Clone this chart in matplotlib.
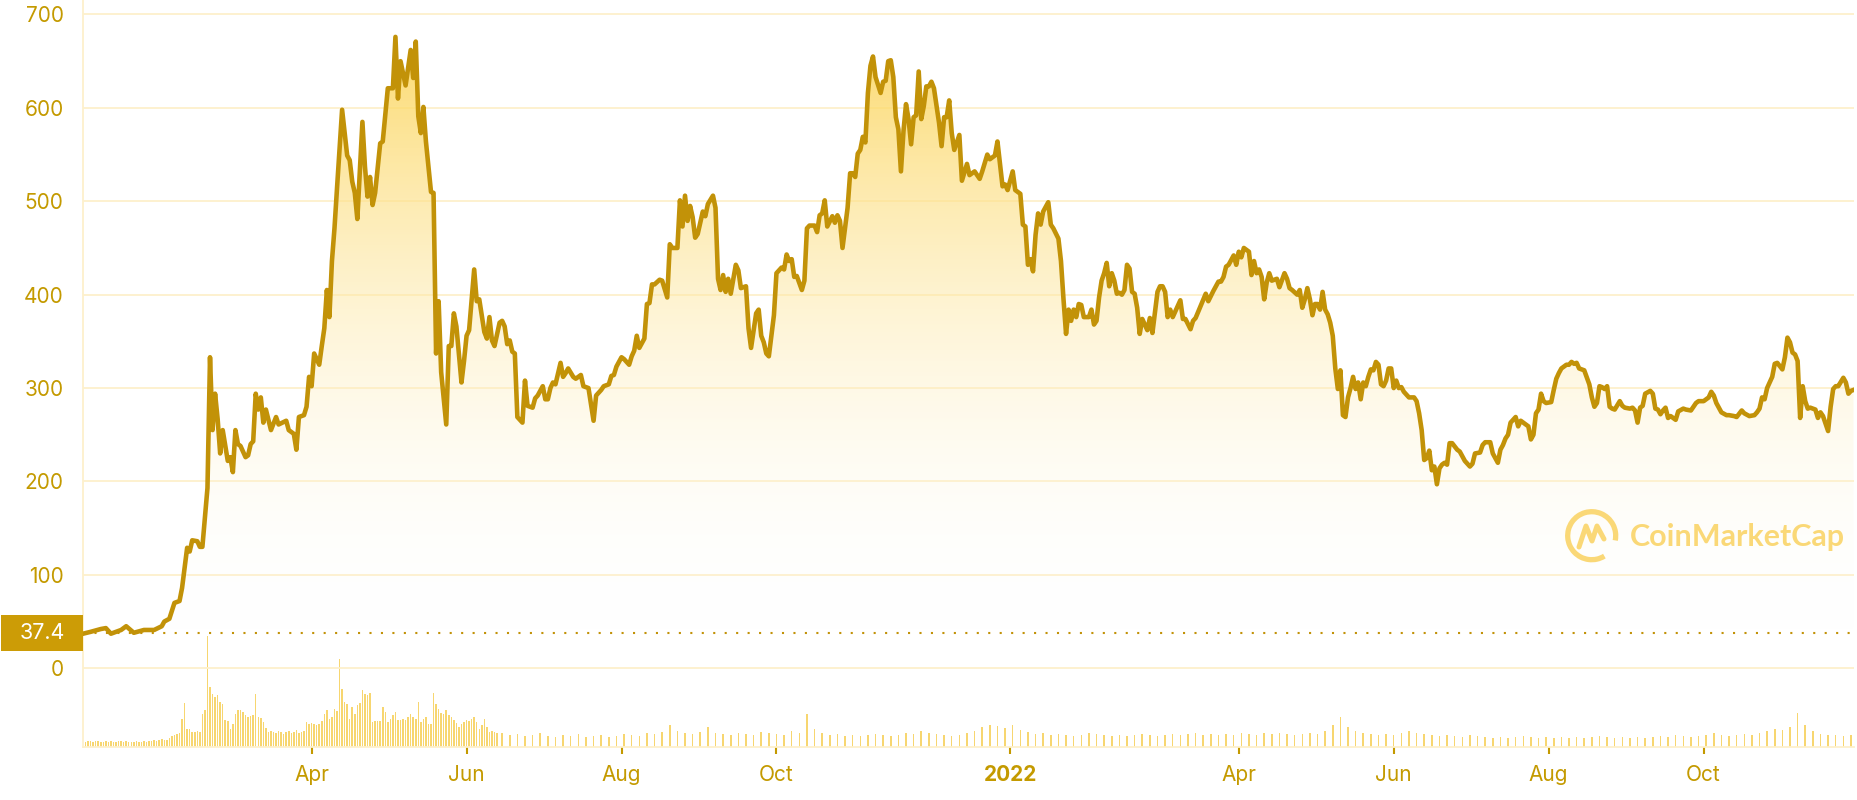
# Grafico precio BNB estilo CoinMarketCap
import numpy as np
import pandas as pd
import matplotlib
matplotlib.use('Agg')
import matplotlib.pyplot as plt
import matplotlib.dates as mdates
import matplotlib.transforms as mtransforms
from matplotlib.patches import Arc, Rectangle
from matplotlib.colors import LinearSegmentedColormap

plt.rcParams['font.family'] = ['Inter', 'DejaVu Sans']

# %% Datos (dias desde 2021-01-01, precio en USD)
start = '2021-01-01'
open_price = 37.4
days = [0, 3, 7, 9, 11, 15, 17, 20, 24, 28, 31, 32, 34, 36, 38, 39, 41, 42, 43, 45,
        46, 47, 49, 50, 51, 52, 53, 54, 55, 57, 58, 59, 60, 61, 62, 64, 65, 66, 67, 68,
        69, 70, 71, 72, 74, 76, 77, 80, 81, 83, 84, 85, 87, 88, 89, 90, 91, 93, 94, 95,
        96, 97, 98, 99, 100, 102, 104, 105, 106, 107, 108, 110, 111, 112, 113, 114, 115, 117, 118, 120,
        122, 123, 124, 125, 127, 129, 130, 131, 132, 133, 134, 135, 137, 138, 139, 140, 141, 143, 144, 145,
        146, 147, 149, 150, 151, 152, 154, 155, 156, 158, 159, 160, 161, 162, 164, 165, 166, 167, 168, 169,
        170, 171, 173, 174, 175, 177, 178, 179, 181, 182, 183, 184, 185, 186, 188, 189, 190, 191, 193, 194,
        196, 197, 199, 201, 202, 204, 205, 207, 208, 209, 210, 212, 213, 215, 216, 217, 218, 219, 221, 222,
        223, 224, 225, 227, 228, 230, 231, 232, 234, 235, 236, 237, 238, 239, 240, 241, 242, 244, 245, 246,
        248, 249, 250, 251, 252, 253, 254, 255, 257, 258, 259, 261, 262, 263, 265, 266, 267, 268, 269, 270,
        272, 273, 275, 276, 277, 278, 279, 280, 281, 283, 284, 285, 286, 288, 289, 290, 291, 292, 293, 295,
        296, 297, 298, 299, 301, 302, 303, 304, 305, 306, 307, 308, 309, 310, 311, 312, 314, 315, 316, 317,
        318, 319, 320, 321, 322, 323, 324, 325, 326, 327, 328, 329, 330, 331, 332, 333, 334, 335, 337, 338,
        339, 340, 341, 342, 343, 345, 346, 348, 349, 351, 353, 354, 356, 357, 359, 360, 361, 362, 363, 364,
        366, 367, 369, 370, 371, 372, 373, 374, 375, 376, 377, 378, 380, 381, 382, 384, 385, 386, 387, 388,
        389, 390, 391, 392, 393, 394, 396, 397, 398, 399, 400, 401, 402, 403, 404, 405, 406, 407, 408, 409,
        410, 411, 412, 413, 414, 415, 416, 417, 419, 420, 421, 423, 424, 425, 426, 427, 428, 429, 430, 432,
        433, 434, 436, 437, 438, 440, 442, 443, 445, 447, 448, 449, 450, 451, 453, 454, 455, 456, 457, 459,
        460, 461, 462, 463, 464, 465, 466, 467, 468, 470, 471, 473, 474, 475, 476, 478, 479, 480, 481, 482,
        483, 484, 485, 486, 487, 488, 489, 490, 491, 492, 493, 494, 495, 496, 497, 498, 499, 500, 501, 502,
        503, 504, 505, 506, 507, 508, 509, 510, 511, 512, 513, 514, 515, 516, 517, 518, 519, 520, 522, 524,
        525, 526, 527, 528, 529, 530, 531, 532, 533, 534, 535, 536, 537, 538, 539, 541, 542, 544, 545, 546,
        547, 548, 550, 551, 552, 554, 555, 557, 558, 559, 560, 561, 562, 564, 565, 566, 567, 569, 570, 571,
        572, 573, 574, 575, 576, 578, 579, 580, 581, 582, 584, 585, 586, 587, 588, 589, 591, 593, 594, 595,
        596, 597, 598, 599, 600, 601, 602, 603, 605, 606, 607, 609, 610, 611, 612, 613, 614, 615, 617, 618,
        619, 620, 621, 622, 623, 624, 625, 626, 627, 628, 630, 631, 633, 635, 636, 638, 640, 641, 642, 643,
        644, 645, 647, 648, 650, 651, 653, 654, 656, 658, 659, 660, 661, 662, 663, 665, 666, 667, 669, 670,
        671, 672, 673, 674, 675, 676, 677, 678, 679, 680, 682, 683, 684, 685, 686, 687, 688, 689, 690, 691,
        693, 694, 695, 696, 697]
prices = [37, 39, 42, 43, 37, 41, 45, 38, 41, 41, 45, 50, 53, 70, 72, 86, 129, 125, 137, 136,
          130, 130, 193, 333, 255, 294, 267, 230, 255, 222, 226, 210, 255, 240, 238, 226, 228, 240, 243, 294,
          277, 290, 263, 277, 255, 269, 261, 265, 255, 251, 234, 269, 271, 280, 312, 302, 337, 325, 345, 364,
          405, 376, 436, 471, 514, 598, 549, 544, 521, 509, 481, 585, 537, 505, 526, 496, 509, 562, 564, 621,
          621, 676, 610, 650, 624, 662, 632, 671, 591, 573, 601, 564, 510, 509, 337, 393, 317, 261, 345, 345,
          380, 366, 306, 329, 356, 362, 427, 393, 395, 360, 353, 376, 351, 345, 370, 372, 366, 347, 351, 339,
          337, 269, 263, 308, 281, 279, 289, 292, 302, 288, 288, 300, 306, 304, 327, 312, 316, 321, 312, 310,
          314, 302, 300, 265, 292, 298, 302, 304, 313, 314, 323, 333, 331, 325, 334, 340, 356, 343, 353, 390,
          391, 411, 411, 416, 415, 397, 454, 450, 450, 501, 473, 506, 479, 495, 483, 461, 465, 489, 484, 497,
          506, 493, 417, 405, 421, 403, 417, 401, 432, 426, 407, 409, 364, 343, 380, 384, 356, 349, 337, 334,
          378, 423, 429, 427, 443, 436, 438, 419, 420, 405, 415, 471, 474, 474, 467, 485, 487, 501, 473, 484,
          477, 485, 479, 450, 493, 530, 530, 526, 551, 555, 569, 563, 616, 645, 655, 633, 616, 628, 629, 650,
          651, 633, 590, 577, 532, 575, 604, 588, 561, 590, 592, 639, 588, 602, 623, 623, 628, 621, 584, 559,
          590, 590, 608, 573, 555, 571, 522, 540, 528, 532, 524, 532, 550, 545, 549, 564, 540, 516, 518, 512,
          532, 512, 508, 475, 473, 432, 438, 425, 464, 487, 475, 489, 499, 475, 471, 460, 436, 395, 358, 384,
          372, 384, 376, 390, 389, 376, 376, 384, 368, 372, 397, 415, 423, 434, 409, 423, 415, 401, 402, 400,
          405, 432, 428, 403, 401, 386, 358, 374, 362, 375, 359, 403, 409, 409, 403, 376, 384, 376, 382, 394,
          374, 374, 363, 372, 375, 388, 401, 393, 404, 414, 414, 419, 430, 432, 442, 432, 446, 440, 450, 446,
          421, 436, 423, 427, 419, 395, 413, 423, 415, 417, 408, 423, 417, 407, 405, 400, 405, 386, 395, 407,
          395, 378, 390, 390, 384, 403, 384, 379, 370, 356, 321, 299, 319, 271, 269, 290, 300, 312, 299, 306,
          288, 306, 302, 312, 320, 319, 328, 325, 304, 302, 308, 321, 321, 300, 308, 300, 301, 296, 290, 290,
          286, 273, 255, 223, 225, 233, 212, 216, 197, 214, 218, 220, 218, 241, 241, 234, 232, 222, 219, 216,
          219, 230, 231, 239, 242, 242, 230, 220, 234, 239, 246, 250, 263, 269, 259, 265, 263, 259, 245, 250,
          273, 277, 294, 286, 284, 285, 298, 310, 316, 321, 325, 325, 328, 326, 327, 321, 319, 304, 290, 280,
          284, 302, 301, 299, 302, 280, 278, 277, 286, 281, 279, 278, 279, 276, 263, 279, 281, 294, 297, 294,
          278, 277, 272, 276, 279, 268, 270, 268, 266, 275, 278, 277, 276, 284, 286, 286, 290, 296, 292, 284,
          279, 274, 271, 271, 270, 269, 276, 273, 270, 271, 274, 278, 290, 288, 300, 312, 326, 327, 320, 333,
          354, 349, 338, 336, 329, 268, 302, 286, 278, 279, 277, 268, 274, 270, 262, 254, 280, 299, 302, 302,
          311, 306, 294, 297, 298]

# volumen (unidades relativas)
vol_days = list(range(1, 164)) + list(range(165, 697, 3))
vol = [5, 6, 6, 5, 6, 6, 5, 5, 6, 5, 6, 5, 5, 6, 6, 5, 6, 5, 5, 5, 6, 5, 5, 6, 5, 6, 6, 7, 6, 7,
       8, 7, 7, 9, 11, 12, 13, 14, 28, 44, 18, 18, 15, 15, 16, 15, 33, 37, 111, 60,
       53, 50, 52, 45, 43, 27, 26, 18, 23, 33, 37, 37, 35, 32, 30, 31, 32, 53, 30, 29,
       25, 19, 15, 16, 15, 14, 16, 15, 13, 15, 16, 14, 15, 17, 14, 15, 16, 25, 23, 24,
       23, 22, 23, 26, 33, 37, 28, 30, 38, 36, 88, 58, 45, 43, 28, 40, 33, 42, 44, 57,
       53, 52, 54, 25, 26, 26, 26, 40, 35, 25, 28, 32, 35, 27, 27, 28, 27, 30, 33, 30,
       28, 45, 25, 28, 30, 23, 23, 54, 43, 38, 34, 33, 37, 32, 30, 27, 24, 20, 23, 25,
       27, 26, 28, 30, 25, 18, 22, 28, 20, 15, 16, 15, 14,
       14, 12, 13, 11, 12, 14, 11, 10, 12, 11, 13, 10, 11, 12, 10, 11, 13, 12, 11, 14,
       13, 15, 22, 16, 14, 13, 15, 20, 14, 13, 12, 14, 13, 12, 15, 14, 13, 12, 16, 14,
       33, 18, 14, 12, 13, 11, 12, 11, 12, 13, 12, 11, 12, 14, 13, 16, 14, 13, 12, 11,
       12, 14, 16, 20, 22, 21, 19, 22, 17, 15, 13, 14, 12, 13, 12, 11, 12, 14, 13, 12,
       11, 12, 11, 12, 13, 12, 11, 12, 13, 12, 13, 14, 12, 13, 12, 13, 12, 14, 13, 12,
       14, 13, 14, 13, 12, 13, 14, 13, 16, 22, 30, 20, 16, 14, 13, 12, 13, 12, 14, 16,
       14, 13, 12, 11, 12, 11, 10, 12, 11, 10, 9, 10, 9, 10, 11, 10, 9, 10, 9, 10,
       9, 10, 9, 10, 11, 10, 9, 10, 9, 10, 9, 10, 11, 10, 12, 11, 10, 11, 12, 14,
       12, 11, 12, 13, 12, 14, 16, 18, 17, 20, 34, 22, 16, 13, 12, 12, 11, 12]

y_ticks = [0, 100, 200, 300, 400, 500, 600, 700]
tick_dates = ['2021-04-01', '2021-06-01', '2021-08-01', '2021-10-01', '2022-01-01',
              '2022-04-01', '2022-06-01', '2022-08-01', '2022-10-01']
tick_labels = ['Apr', 'Jun', 'Aug', 'Oct', '2022', 'Apr', 'Jun', 'Aug', 'Oct']

# %% Colores
gold = '#C29208'
text_gold = '#C49A00'
grid_col = '#FDF0CC'

x0 = mdates.date2num(pd.Timestamp(start))
xs = x0 + np.array(days, dtype=float)
xv = x0 + np.array(vol_days, dtype=float)
prices = np.array(prices, dtype=float)
xmax = x0 + 697.2

# %% Figura
fig = plt.figure(figsize=(18.58, 8.0), dpi=100)
rect = [83 / 1858, 53 / 800, 1771 / 1858, 747 / 800]

# volumen
axv = fig.add_axes(rect)
axv.bar(xv, vol, width=0.6, color='#F7D670', linewidth=0)
axv.set_xlim(x0, xmax)
axv.set_ylim(0, 747)
axv.axis('off')

ax = fig.add_axes(rect, facecolor='none')
ax.set_xlim(x0, xmax)
ax.set_ylim(-84.3, 715.5)

# relleno degradado
poly = ax.fill_between(xs, prices, open_price, color='none', lw=0)
cmap = LinearSegmentedColormap.from_list('g', [(1, 1, 1, 0), (0.99, 0.83, 0.33, 0.92)])
grad = np.linspace(0, 1, 256).reshape(-1, 1)
im = ax.imshow(grad, extent=[xs[0], xs[-1], open_price, 700], origin='lower',
               aspect='auto', cmap=cmap, zorder=1, interpolation='bilinear')
im.set_clip_path(poly.get_paths()[0], transform=ax.transData)

ax.plot(xs, prices, color=gold, lw=3.3, zorder=3, solid_joinstyle='round')
ax.axhline(open_price, color=gold, lw=1.5, ls=(0, (1, 4.5)), zorder=2)
ax.set_xlim(x0, xmax)
ax.set_ylim(-84.3, 715.5)

# ejes
ax.set_yticks(y_ticks)
ax.grid(axis='y', color=grid_col, lw=1.3, zorder=0)
ax.set_axisbelow(True)
ax.tick_params(axis='y', length=0, pad=14, labelsize=15, labelcolor=text_gold)
ax.set_xticks([mdates.date2num(pd.Timestamp(d)) for d in tick_dates])
ax.set_xticklabels(tick_labels)
ax.tick_params(axis='x', direction='out', length=5, width=1.5, color=text_gold,
               pad=8, labelsize=15, labelcolor=text_gold)
ax.get_xticklabels()[4].set_fontweight('bold')
for s in ['top', 'right']:
    ax.spines[s].set_visible(False)
for s in ['left', 'bottom']:
    ax.spines[s].set_color(grid_col)
    ax.spines[s].set_linewidth(1.3)

# etiqueta precio inicial
trans = mtransforms.blended_transform_factory(ax.transAxes, ax.transData)
ax.add_patch(Rectangle((-82 / 1771, open_price - 19.3), 82 / 1771, 38.6, transform=trans,
                       facecolor='#CC9C06', edgecolor='none', clip_on=False, zorder=5))
ax.text(-41 / 1771, open_price, '37.4', transform=trans, ha='center', va='center',
        color='white', fontsize=15.5, zorder=6)

# marca de agua
fx = lambda p: p / 1858
fy = lambda p: 1 - p / 800
wm = '#FAD260'
fig.patches.append(Arc((fx(1591.7), fy(535.7)), 48 / 1858, 48 / 800, theta1=-25, theta2=285,
                       transform=fig.transFigure, color=wm, lw=3.8, alpha=0.85))
fig.lines.append(plt.Line2D([fx(1579), fx(1586), fx(1592), fx(1597), fx(1604)],
                            [fy(547), fy(526), fy(541), fy(526), fy(539)],
                            transform=fig.transFigure, color=wm, lw=3.6, alpha=0.85,
                            solid_joinstyle='round', solid_capstyle='round'))
fig.text(fx(1630), fy(537), 'CoinMarketCap', ha='left', va='center', fontsize=22,
         fontweight='bold', color=wm, alpha=0.85, family=['Lato', 'DejaVu Sans'])

fig.savefig('out.png', dpi=100)
